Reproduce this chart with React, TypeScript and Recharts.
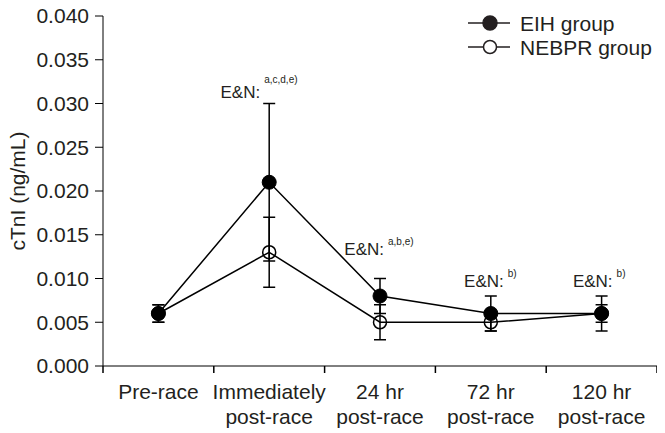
import { ComposedChart, ErrorBar, LabelList, Line, XAxis, YAxis } from "recharts";

const FONT = "'Liberation Sans', Arial, sans-serif";
const INK = "#231f20";

// time points (line break = second label row)
const categories = [
  "Pre-race",
  "Immediately\npost-race",
  "24 hr\npost-race",
  "72 hr\npost-race",
  "120 hr\npost-race",
];
const eihMean = [0.006, 0.021, 0.008, 0.006, 0.006];
const eihSD = [0.001, 0.009, 0.002, 0.002, 0.002];
const nebprMean = [0.006, 0.013, 0.005, 0.005, 0.006];
const nebprSD = [0.001, 0.004, 0.002, 0.001, 0.001];
const significance = ["", "a,c,d,e)", "a,b,e)", "b)", "b)"];
const yTicks = [0, 0.005, 0.01, 0.015, 0.02, 0.025, 0.03, 0.035, 0.04];

const data = categories.map((label, i) => ({
  label,
  eih: eihMean[i],
  eihSD: eihSD[i],
  nebpr: nebprMean[i],
  nebprSD: nebprSD[i],
  sig: significance[i],
}));

// where the "E&N:" notes sit relative to the EIH point: [dx, dy, superscript dy]
const noteOffsets = [
  [0, 0, 0],
  [-9, -84, -15],
  [4, -41, -10],
  [13, -27, -10],
  [11, -27, -10],
];

// label centred in its band, tick marks on the band edges
function CategoryTick({ x, y, payload, index, width, visibleTicksCount }: any) {
  const lines = String(payload.value).split("\n");
  const half = width / visibleTicksCount / 2;
  return (
    <g>
      <line x1={x - half} y1={y} x2={x - half} y2={y + 7} stroke="#000" strokeWidth={1.5} />
      {index === visibleTicksCount - 1 && (
        <line x1={x + half} y1={y} x2={x + half} y2={y + 7} stroke="#000" strokeWidth={1.5} />
      )}
      <text x={x} y={y} textAnchor="middle" fontSize={21} fill={INK} fontFamily={FONT}>
        {lines.map((l, i) => (
          <tspan key={i} x={x} dy={i === 0 ? 33 : 25}>
            {l}
          </tspan>
        ))}
      </text>
    </g>
  );
}

function YLabel({ viewBox }: any) {
  const cy = viewBox.y + viewBox.height / 2;
  return (
    <text
      x={9}
      y={cy}
      transform={`rotate(-90, 9, ${cy})`}
      textAnchor="middle"
      dominantBaseline="central"
      fontSize={21}
      fill={INK}
      fontFamily={FONT}
    >
      cTnI (ng/mL)
    </text>
  );
}

function SigNote({ x, y, index, value }: any) {
  if (!value) return null;
  const [dx, dy, sdy] = noteOffsets[index];
  return (
    <g fontFamily={FONT} fill={INK}>
      <text x={x + dx} y={y + dy} textAnchor="end" fontSize={17}>
        E&amp;N:
      </text>
      <text x={x + dx + 4} y={y + dy + sdy} fontSize={10}>
        {value}
      </text>
    </g>
  );
}

function LegendBox() {
  return (
    <svg width={200} height={56} style={{ position: "absolute", left: 455, top: 0 }}>
      <g stroke={INK} strokeWidth={1.5}>
        <line x1={5} y1={15} x2={47} y2={15} />
        <circle cx={27} cy={15} r={7} fill={INK} />
        <line x1={5} y1={39} x2={47} y2={39} />
        <circle cx={27} cy={39} r={6.5} fill="#fff" />
      </g>
      <g fontSize={21} fill={INK} fontFamily={FONT}>
        <text x={57} y={15} dominantBaseline="central">EIH group</text>
        <text x={57} y={39} dominantBaseline="central">NEBPR group</text>
      </g>
    </svg>
  );
}

export default function App() {
  return (
    <div style={{ position: "relative", width: 657, height: 425 }}>
      <ComposedChart width={657} height={425} data={data} margin={{ top: 8, right: 8, bottom: 0, left: 0 }}>
        <XAxis
          dataKey="label"
          scale="band"
          interval={0}
          tickLine={false}
          tickSize={0}
          tickMargin={0}
          height={67}
          stroke="#000"
          tick={<CategoryTick />}
        />
        <YAxis
          domain={[0, 0.04]}
          ticks={yTicks}
          interval={0}
          tickFormatter={(v: number) => v.toFixed(3)}
          width={95}
          tickSize={8}
          tickMargin={6}
          stroke="#000"
          tick={{ fill: INK, fontSize: 21, fontFamily: FONT }}
          label={{ content: <YLabel /> }}
        />
        <Line
          dataKey="nebpr"
          stroke="#000"
          strokeWidth={1.5}
          dot={{ r: 6.5, fill: "none", stroke: "#000", strokeWidth: 1.5 }}
          activeDot={false}
          isAnimationActive={false}
        >
          <ErrorBar dataKey="nebprSD" width={6} stroke="#000" strokeWidth={1.5} />
        </Line>
        <Line
          dataKey="eih"
          stroke="#000"
          strokeWidth={1.5}
          dot={{ r: 7, fill: "#000", stroke: "#000", strokeWidth: 1 }}
          activeDot={false}
          isAnimationActive={false}
        >
          <ErrorBar dataKey="eihSD" width={6} stroke="#000" strokeWidth={1.5} />
          <LabelList dataKey="sig" content={<SigNote />} />
        </Line>
      </ComposedChart>
      <LegendBox />
    </div>
  );
}
